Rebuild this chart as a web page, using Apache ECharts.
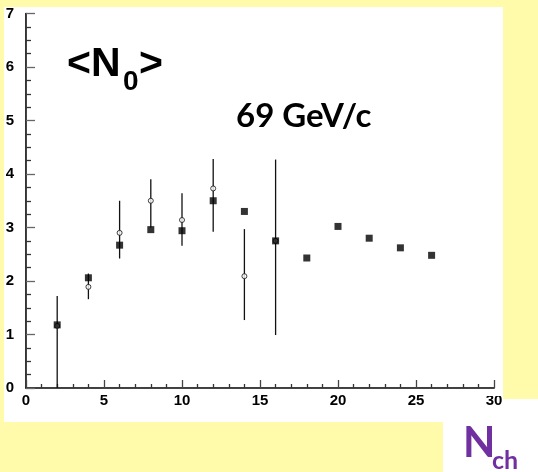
<!DOCTYPE html>
<html>
<head>
<meta charset="utf-8">
<script src="https://cdn.jsdelivr.net/npm/echarts@6/dist/echarts.min.js"></script>
<style>
  html, body { margin: 0; padding: 0; background: #fffbab; }
  #wrap { position: relative; width: 538px; height: 472px; overflow: hidden; background: #fffbab; }
  .panel { position: absolute; background: #ffffff; }
  #chart { position: absolute; left: 0; top: 0; width: 538px; height: 472px; }
</style>
</head>
<body>
<div id="wrap">
  <div class="panel" style="left:4px;top:7px;width:499px;height:415px;"></div>
  <div class="panel" style="left:443px;top:399px;width:95px;height:73px;"></div>
  <div id="chart"></div>
</div>
<script>
// Multiplicity bins (charged multiplicity)
const nch = [2, 4, 6, 8, 10, 12, 14, 16, 18, 20, 22, 24, 26];
// <N0> measured values (filled squares)
const n0Filled = [1.18, 2.06, 2.67, 2.96, 2.94, 3.50, 3.30, 2.75, 2.43, 3.02, 2.80, 2.62, 2.48];
// Second data set (open circles) with its error band
const nchOpen = [2, 4, 6, 8, 10, 12, 14, 16];
const n0Open = [1.16, 1.89, 2.90, 3.50, 3.14, 3.73, 2.09, 2.75];
const errLow = [0.00, 1.66, 2.42, 3.00, 2.66, 2.92, 1.27, 0.99];
const errHigh = [1.72, 2.14, 3.50, 3.90, 3.64, 4.28, 2.97, 4.27];
// Axis ranges
const xTicks = { min: 0, max: 30, step: 5 };
const yTicks = { min: 0, max: 7, step: 1 };

const chart = echarts.init(document.getElementById('chart'), null, { renderer: 'canvas' });
const labelFont = { color: '#000', fontWeight: 'bold', fontSize: 15, fontFamily: 'Liberation Sans, Arial, sans-serif' };
const frameAxis = { show: true, lineStyle: { color: '#444', width: 1 } };

chart.setOption({
  backgroundColor: 'transparent',
  animation: false,
  grid: { left: 26, right: 44, top: 13.5, bottom: 84, show: false },
  xAxis: [{
    type: 'value', min: xTicks.min, max: xTicks.max, interval: xTicks.step,
    axisLine: { lineStyle: { color: '#000', width: 1.6 } },
    axisTick: { inside: true, length: 8, lineStyle: { color: '#444', width: 1.3 } },
    minorTick: { show: true, splitNumber: 5, length: 4, lineStyle: { color: '#333', width: 1.3 } },
    splitLine: { show: false },
    axisLabel: Object.assign({ margin: 5 }, labelFont)
  }, {
    type: 'value', position: 'top', min: xTicks.min, max: xTicks.max,
    axisLine: frameAxis, axisTick: { show: false }, axisLabel: { show: false }, splitLine: { show: false }
  }],
  yAxis: [{
    type: 'value', min: yTicks.min, max: yTicks.max, interval: yTicks.step,
    axisLine: { show: true, lineStyle: { color: '#000', width: 1.6 } },
    axisTick: { show: true, inside: true, length: 9, lineStyle: { color: '#666', width: 1.3 } },
    minorTick: { show: true, splitNumber: 4, length: 5, lineStyle: { color: '#333', width: 1.3 } },
    splitLine: { show: false },
    axisLabel: Object.assign({ margin: 12 }, labelFont)
  }, {
    type: 'value', position: 'right', min: yTicks.min, max: yTicks.max,
    axisLine: frameAxis, axisTick: { show: false }, axisLabel: { show: false }, splitLine: { show: false }
  }],
  series: [
    {
      type: 'custom',
      name: 'errors',
      data: nchOpen.map((x, i) => [x, errLow[i], errHigh[i]]),
      encode: { x: 0, y: [1, 2] },
      z: 2,
      renderItem: function (params, api) {
        const x = api.value(0);
        const p1 = api.coord([x, api.value(1)]);
        const p2 = api.coord([x, api.value(2)]);
        return {
          type: 'line',
          shape: { x1: p1[0], y1: p1[1], x2: p2[0], y2: p2[1] },
          style: { stroke: '#111', lineWidth: 1.3 }
        };
      }
    },
    {
      type: 'scatter',
      name: 'open',
      data: nchOpen.map((x, i) => [x, n0Open[i]]),
      symbol: 'circle',
      symbolSize: 5,
      z: 3,
      itemStyle: { color: '#fff', borderColor: '#111', borderWidth: 1 }
    },
    {
      type: 'scatter',
      name: 'filled',
      data: nch.map((x, i) => [x, n0Filled[i]]),
      symbol: 'rect',
      symbolSize: 7,
      z: 4,
      itemStyle: { color: '#000' }
    }
  ],
  graphic: [
    // partial cover over the end label at the lower right
    { type: 'rect', z: 100, shape: { x: 484, y: 390, width: 19, height: 6 }, style: { fill: '#fff' } },
    { type: 'text', z: 100, x: 67, y: 64.5, style: { text: '<N', fill: '#000', font: 'bold 41px "Liberation Sans", Arial, sans-serif', verticalAlign: 'middle', align: 'left' } },
    { type: 'text', z: 100, x: 123, y: 82, style: { text: '0', fill: '#000', font: 'bold 28px "Liberation Sans", Arial, sans-serif', verticalAlign: 'middle', align: 'left' } },
    { type: 'text', z: 100, x: 139, y: 64.5, style: { text: '>', fill: '#000', font: 'bold 41px "Liberation Sans", Arial, sans-serif', verticalAlign: 'middle', align: 'left' } },
    { type: 'text', z: 100, x: 236, y: 116.5, style: { text: '69 GeV/c', fill: '#000', font: 'bold 33px Lato, "Open Sans", sans-serif', verticalAlign: 'middle', align: 'left' } },
    { type: 'text', z: 100, x: 463, y: 443, style: { text: 'N', fill: '#7030a0', font: 'bold 42px Lato, "Open Sans", sans-serif', verticalAlign: 'middle', align: 'left' } },
    { type: 'text', z: 100, x: 492, y: 461, style: { text: 'ch', fill: '#7030a0', font: 'bold 25px Lato, "Open Sans", sans-serif', verticalAlign: 'middle', align: 'left' } }
  ]
});
</script>
</body>
</html>
